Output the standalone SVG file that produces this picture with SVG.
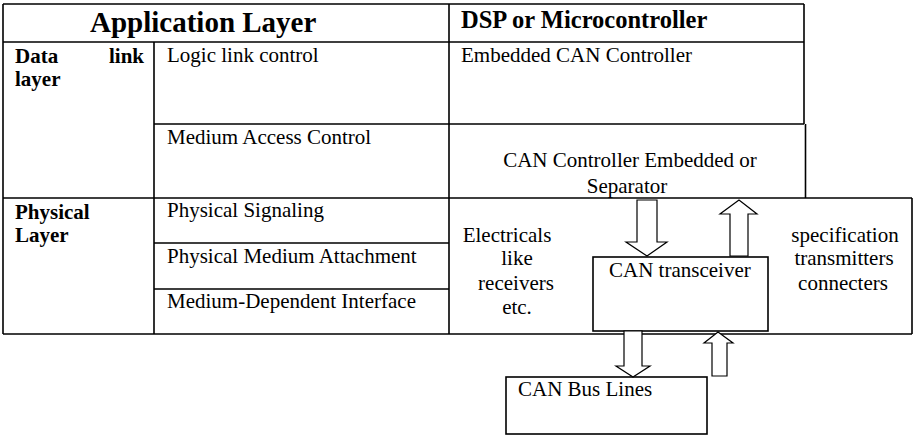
<svg xmlns="http://www.w3.org/2000/svg" width="923" height="440" viewBox="0 0 923 440">
<style>
.ln{stroke:#000;stroke-width:1.6;fill:none}
.bx{stroke:#000;stroke-width:1.6;fill:#fff}
.ar{stroke:#000;stroke-width:1.2;fill:#fff;stroke-linejoin:miter}
text{font-family:"Liberation Serif","Times New Roman",Times,serif;font-size:21px;fill:#000}
.b{font-weight:bold}
.h1{font-size:29px}
.h2{font-size:24.5px}
.m{text-anchor:middle}
</style>
<rect width="923" height="440" fill="#fff"/>
<g id="table">
<path class="ln" d="M3,4 H804 M3,42 H804 M154,124 H804 M3,198 H912 M154,243 H449 M154,289 H449 M3,334 H912 M3,4 V334 M154,42 V334 M449,4 V334 M804,4 V124 M805.5,124 V198 M912,198 V334"/>
</g>
<g id="app-layer"><text class="b h1" x="90" y="32">Application Layer</text></g>
<g id="dsp"><text class="b h2" x="461" y="28">DSP or Microcontroller</text></g>
<g id="data-link"><text class="b" x="15" y="63">Data</text><text class="b" x="144" y="63" text-anchor="end">link</text><text class="b" x="15" y="86">layer</text></g>
<g id="llc"><text x="167" y="62">Logic link control</text></g>
<g id="mac"><text x="167" y="144">Medium Access Control</text></g>
<g id="embedded"><text x="461" y="62">Embedded CAN Controller</text></g>
<g id="can-ctrl"><text class="m" x="630" y="167">CAN Controller Embedded or</text><text class="m" x="627" y="193">Separator</text></g>
<g id="physical"><text class="b" x="15" y="219">Physical</text><text class="b" x="15" y="242">Layer</text></g>
<g id="pls"><text x="167" y="217">Physical Signaling</text></g>
<g id="pma"><text x="167" y="263">Physical Medium Attachment</text></g>
<g id="mdi"><text x="167" y="308">Medium-Dependent Interface</text></g>
<g id="electricals"><text class="m" x="507" y="242">Electricals</text><text class="m" x="517" y="265">like</text><text class="m" x="516" y="290">receivers</text><text class="m" x="517" y="314">etc.</text></g>
<g id="spec"><text class="m" x="845" y="242">specification</text><text class="m" x="844" y="265">transmitters</text><text class="m" x="843" y="290">connecters</text></g>
<g id="transceiver"><rect class="bx" x="593" y="257" width="175" height="74"/><text x="609" y="277">CAN transceiver</text></g>
<g id="bus"><rect class="bx" x="506" y="377" width="201" height="57"/><text x="518" y="396">CAN Bus Lines</text></g>
<g id="connectors">
<path class="ar" d="M637,200 H657 V242 H667 L647,256 L626,242 H637 Z"/>
<path class="ar" d="M730,256 V214 H720 L739,200 L757,214 H748 V256 Z"/>
<path class="ar" d="M624,331 H642 V366 H650 L633,377 L616,366 H624 Z"/>
<path class="ar" d="M712,376 V343 H704 L718,332 L733,343 H727 V376 Z"/>
</g>
</svg>
